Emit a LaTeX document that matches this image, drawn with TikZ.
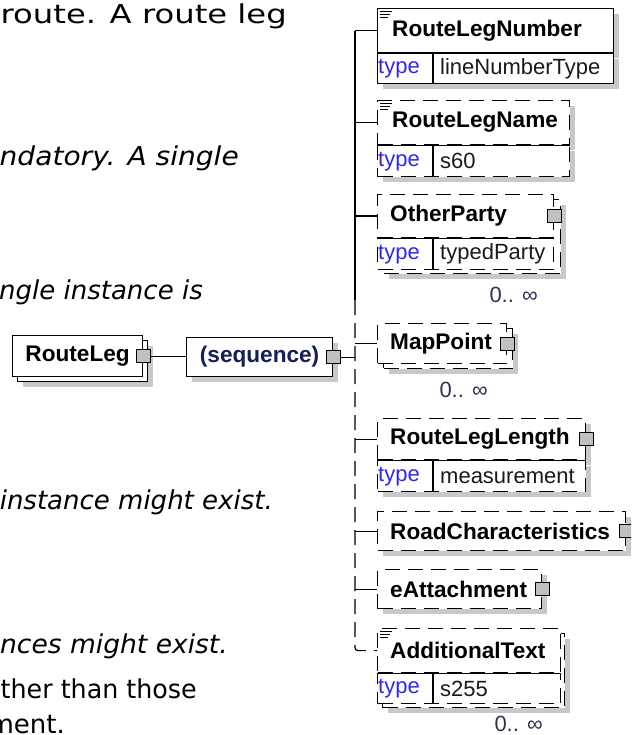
\documentclass[tikz,border=0pt]{standalone}
\usepackage{fontspec}
\newfontfamily\diagfont{Liberation Sans}
\newfontfamily\descfont[ItalicFont={DejaVu Sans Oblique}]{DejaVu Sans}
\usetikzlibrary{positioning,shadows}

\definecolor{typeblue}{RGB}{50,40,235}
\definecolor{valcol}{RGB}{30,25,20}
\definecolor{occurcol}{RGB}{45,50,80}
\definecolor{seqcol}{RGB}{20,30,90}
\definecolor{shadowgray}{RGB}{200,200,200}
\definecolor{buttongray}{RGB}{192,192,192}

\tikzset{
  wire/.style={line width=1.2pt},
  optline/.style={dash pattern=on 15pt off 8pt},
  frame/.style={draw, line width=1.2pt, fill=white, inner sep=0pt, anchor=north west},
  optframe/.style={frame, optline},
  shadowed/.style={drop shadow={shadow xshift=5pt, shadow yshift=-5pt, fill=shadowgray, opacity=1}},
  elfont/.style={font=\diagfont\bfseries\fontsize{22.6}{26}\selectfont},
  elname/.style={elfont, inner sep=0pt},
  typelbl/.style={font=\diagfont\fontsize{22}{26}\selectfont, text=typeblue, inner sep=0pt},
  typeval/.style={font=\diagfont\fontsize{22}{26}\selectfont, text=valcol, inner sep=0pt},
  expander/.style={draw, line width=1.2pt, fill=buttongray, minimum width=14pt, minimum height=13pt, inner sep=0pt},
  occur/.style={font=\diagfont\fontsize{22}{26}\selectfont, text=occurcol, inner sep=0pt, anchor=base east},
  desc/.style={font=\descfont\fontsize{26}{30}\selectfont, inner sep=0pt, anchor=base east},
  descit/.style={desc, font=\descfont\itshape\fontsize{26}{30}\selectfont},
  docmark/.pic={\draw[line width=0.9pt] (0,0) -- (12,0) (0,3) -- (10,3) (0,6) -- (8,6);}
}

\begin{document}
\begin{tikzpicture}[x=1pt, y=-1pt]
  \useasboundingbox (0,0) rectangle (631,735);
  \clip (0,0) rectangle (631,735);

  % text of the page, cut at the left
  \node[desc, xscale=1.24, transform shape] (d1) at (287,24) {route. A route leg};
  \node[descit, xscale=1.08, transform shape] (d2) at (239,166) {ndatory. A single};
  \node[descit] (d3) at (203,299) {ngle instance is};
  \node[descit] (d4) at (273,509) {instance might exist.};
  \node[descit, xscale=1.02, transform shape] (d5) at (228,653) {nces might exist.};
  \node[desc, xscale=0.975, transform shape] (d6) at (197,698) {ther than those};
  \node[desc] (d7) at (65,733) {ment.};

  % RouteLeg -> (sequence)
  \node[frame, shadowed, minimum width=130pt, minimum height=41pt] (rlback) at (17,340) {};
  \node[frame, elfont, minimum width=130pt, minimum height=41pt] (rl) at (12,335) {RouteLeg};
  \node[expander] (rlexp) at (rl.east) {};
  \node[frame, shadowed, elfont, text=seqcol, minimum width=146pt, minimum height=39pt] (seq) at (186,337) {(sequence)};
  \node[expander] (seqexp) at (seq.east) {};
  \draw[wire] (rlexp.east) -- (rlexp.east -| seq.west);

  % RouteLegNumber
  \node[frame, shadowed, minimum width=236pt, minimum height=44pt] (num) at (377,8) {};
  \node[frame, shadowed, minimum width=236pt, minimum height=30pt] (numrow) at (num.south west) {};
  \pic at (380,11) {docmark};
  \node[elname, right=15pt of num.west] (numlbl) {RouteLegNumber};
  \node[typelbl, right=1pt of numrow.west] (numtype) {type};
  \node[typeval, right=63pt of numrow.west] (numval) {lineNumberType};
  \draw[wire] ([xshift=56pt]numrow.north west) -- ([xshift=56pt]numrow.south west);

  % RouteLegName
  \node[optframe, shadowed, minimum width=192pt, minimum height=44pt] (name) at (377,100) {};
  \node[optframe, shadowed, minimum width=192pt, minimum height=31pt] (namerow) at (name.south west) {};
  \draw[wire] (name.south west) -- (name.south east);
  \pic at (380,103) {docmark};
  \node[elname, right=15pt of name.west] (namelbl) {RouteLegName};
  \node[typelbl, right=1pt of namerow.west] (nametype) {type};
  \node[typeval, right=63pt of namerow.west] (nameval) {s60};
  \draw[wire] ([xshift=56pt]namerow.north west) -- ([xshift=56pt]namerow.south west);

  % OtherParty
  \node[optframe, shadowed, minimum width=177pt, minimum height=74pt] (opback) at (383,199) {};
  \node[optframe, minimum width=176pt, minimum height=43pt] (op) at (377,194) {};
  \node[optframe, minimum width=176pt, minimum height=31pt] (oprow) at (op.south west) {};
  \draw[wire] (op.south west) -- (op.south east);
  \node[elname, right=13pt of op.west] (oplbl) {OtherParty};
  \node[expander] (opexp) at (op.east) {};
  \node[typelbl, right=1pt of oprow.west] (optype) {type};
  \node[typeval, right=63pt of oprow.west] (opval) {typedParty};
  \draw[wire] ([xshift=56pt]oprow.north west) -- ([xshift=56pt]oprow.south west);
  \node[occur] (opocc) at (538,302) {0.. ∞};

  % MapPoint
  \node[optframe, shadowed, minimum width=129pt, minimum height=40pt] (mapback) at (383,328) {};
  \node[optframe, minimum width=129pt, minimum height=40pt] (map) at (377,323) {};
  \node[elname, right=13pt of map.west] (maplbl) {MapPoint};
  \node[expander] (mapexp) at (map.east) {};
  \node[occur] (mapocc) at (488,397) {0.. ∞};

  % RouteLegLength
  \node[optframe, shadowed, minimum width=208pt, minimum height=41pt] (len) at (377,418) {};
  \node[optframe, shadowed, minimum width=208pt, minimum height=31pt] (lenrow) at (len.south west) {};
  \draw[wire] (len.south west) -- (len.south east);
  \node[elname, right=13pt of len.west] (lenlbl) {RouteLegLength};
  \node[expander] (lenexp) at (len.east) {};
  \node[typelbl, right=1pt of lenrow.west] (lentype) {type};
  \node[typeval, right=63pt of lenrow.west] (lenval) {measurement};
  \draw[wire] ([xshift=56pt]lenrow.north west) -- ([xshift=56pt]lenrow.south west);

  % RoadCharacteristics
  \node[optframe, shadowed, minimum width=248pt, minimum height=39pt] (road) at (377,511) {};
  \node[elname, right=13pt of road.west] (roadlbl) {RoadCharacteristics};
  \node[expander] (roadexp) at (road.east) {};

  % eAttachment
  \node[optframe, shadowed, minimum width=164pt, minimum height=39pt] (att) at (377,569) {};
  \node[elname, right=13pt of att.west] (attlbl) {eAttachment};
  \node[expander] (attexp) at (att.east) {};

  % AdditionalText
  \node[optframe, shadowed, minimum width=182pt, minimum height=74pt] (addback) at (382,633) {};
  \node[optframe, minimum width=183pt, minimum height=44pt] (add) at (377,628) {};
  \node[optframe, minimum width=183pt, minimum height=30pt] (addrow) at (add.south west) {};
  \draw[wire] (add.south west) -- (add.south east);
  \pic at (380,631) {docmark};
  \node[elname, right=13pt of add.west] (addlbl) {AdditionalText};
  \node[typelbl, right=1pt of addrow.west] (addtype) {type};
  \node[typeval, right=63pt of addrow.west] (addval) {s255};
  \draw[wire] ([xshift=56pt]addrow.north west) -- ([xshift=56pt]addrow.south west);
  \node[occur] (addocc) at (543,731) {0.. ∞};

  % sequence bus
  \coordinate (bus) at (355,0);
  \coordinate (busbreak) at (355,300);
  \draw[wire] (seqexp.east) -- (seqexp.east -| bus);
  \draw[wire] (bus |- num.west) -- (busbreak);
  \draw[wire, optline, rounded corners=3pt] (busbreak) |- (add.west);
  \draw[wire] (bus |- num.west) -- (num.west);
  \draw[wire] (bus |- name.west) -- (name.west);
  \draw[wire] (bus |- op.west) -- (op.west);
  \draw[wire] (bus |- map.west) -- (map.west);
  \draw[wire] (bus |- len.west) -- (len.west);
  \draw[wire] (bus |- road.west) -- (road.west);
  \draw[wire] (bus |- att.west) -- (att.west);
\end{tikzpicture}
\end{document}
